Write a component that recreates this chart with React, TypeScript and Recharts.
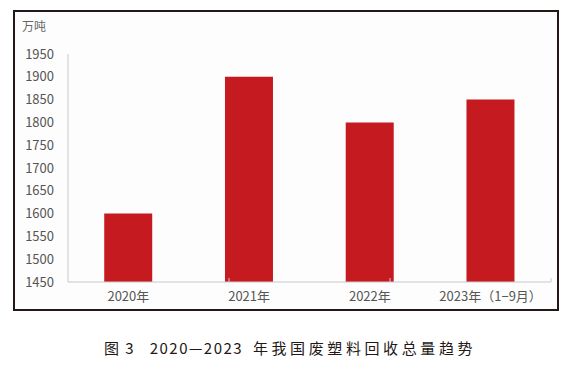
import React from 'react';
import { BarChart, Bar, XAxis, YAxis } from 'recharts';

const years = ['2020年', '2021年', '2022年', '2023年（1−9月）'];
const recycled = [1600, 1900, 1800, 1850];
const yTicks = [1450, 1500, 1550, 1600, 1650, 1700, 1750, 1800, 1850, 1900, 1950];
const boundaryTicks = [1, 2, 3];

const chartData = years.map((year, i) => ({ year, value: recycled[i] }));

const font = '"Noto Sans CJK SC", "Noto Sans", sans-serif';

const App: React.FC = () => {
  return (
    <div style={{ position: 'relative', width: 580, height: 379, margin: -8, background: '#fff', fontFamily: font }}>
      <div
        style={{
          position: 'absolute',
          left: 13,
          top: 10,
          width: 542,
          height: 297,
          border: '2px solid #231815',
          background: '#fdfdfd',
        }}
      >
        <div style={{ position: 'absolute', left: 7, top: 5, fontSize: 12, color: '#666' }}>万吨</div>
        <BarChart
          width={542}
          height={297}
          data={chartData}
          margin={{ top: 42, right: 6, left: 0, bottom: 0 }}
          barCategoryGap="30%"
        >
          <XAxis
            dataKey="year"
            xAxisId="cat"
            height={27}
            tickLine={false}
            axisLine={{ stroke: '#c8c8c8' }}
            tick={{ fill: '#555', fontSize: 13 }}
            tickMargin={4}
          />
          <XAxis
            xAxisId="edge"
            type="number"
            domain={[0, 4]}
            ticks={boundaryTicks}
            mirror
            axisLine={false}
            tickSize={4}
            tickLine={{ stroke: '#c8c8c8' }}
            tickFormatter={() => ''}
          />
          <YAxis
            yAxisId="v"
            width={53}
            domain={[1450, 1950]}
            ticks={yTicks}
            interval={0}
            tickLine={false}
            axisLine={{ stroke: '#c8c8c8' }}
            tick={{ fill: '#555', fontSize: 13 }}
            tickMargin={8}
          />
          <YAxis
            yAxisId="marks"
            domain={[1450, 1950]}
            ticks={yTicks}
            interval={0}
            mirror
            axisLine={false}
            tickSize={4}
            tickLine={{ stroke: '#c8c8c8' }}
            tickFormatter={() => ''}
          />
          <Bar dataKey="value" xAxisId="cat" yAxisId="v" fill="#c41a20" isAnimationActive={false} />
        </BarChart>
      </div>
      <div
        style={{
          position: 'absolute',
          left: 0,
          width: 580,
          top: 337,
          textAlign: 'center',
          fontSize: 15,
          color: '#231815',
        }}
      >
        <span style={{ letterSpacing: 1.5 }}>图 3&nbsp;&nbsp;&nbsp;2020—2023&nbsp; </span>
        <span style={{ letterSpacing: 3.6 }}>年我国废塑料回收总量趋势</span>
      </div>
    </div>
  );
};

export default App;
